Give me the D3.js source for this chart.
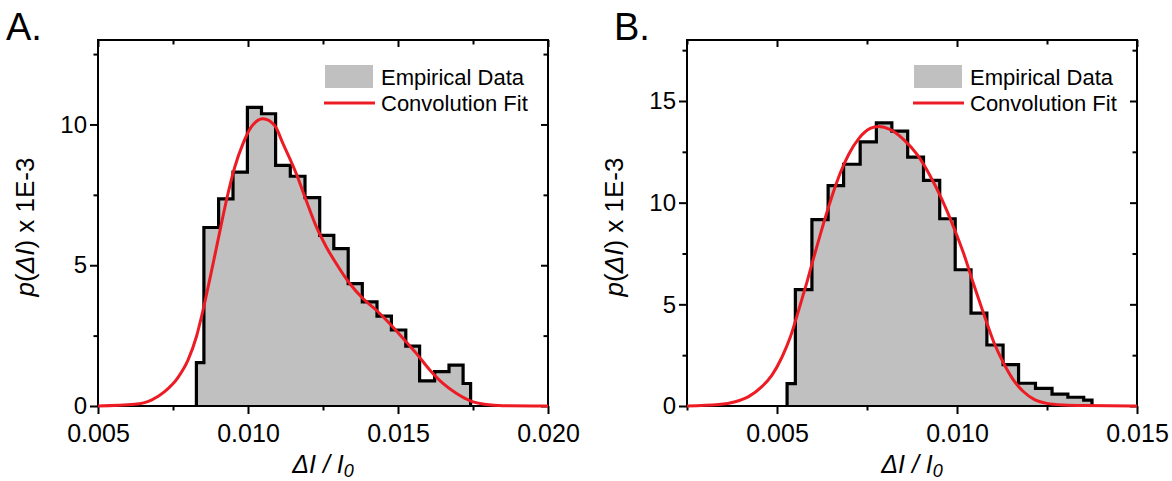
<!DOCTYPE html>
<html>
<head>
<meta charset="utf-8">
<script src="https://cdn.jsdelivr.net/npm/d3@7"></script>
<style>
  body { margin: 0; background: #fff; }
  svg text { font-family: "Liberation Sans", Arial, sans-serif; fill: #000; }
</style>
</head>
<body>
<svg id="chart" width="1172" height="481"></svg>
<script>
// Panel A: histogram bin edges and heights (p x 1E-3)
const edgesA = [0.00828, 0.00853, 0.00902, 0.00950, 0.00998, 0.01045, 0.01092, 0.01141, 0.01190, 0.01239,
  0.01286, 0.01334, 0.01381, 0.01430, 0.01478, 0.01526, 0.01572, 0.01622, 0.01670, 0.01717, 0.01742];
const countsA = [1.54, 6.34, 7.36, 8.31, 10.61, 10.38, 8.55, 8.16, 7.40, 6.06,
  5.59, 4.35, 3.70, 3.19, 2.70, 2.13, 0.89, 1.22, 1.45, 0.80];
// Panel A: convolution fit
const fitXA = [0.005, 0.00622, 0.00678, 0.00722, 0.00767, 0.0080, 0.00828, 0.0085, 0.00872, 0.0090,
  0.00928, 0.00956, 0.00983, 0.01011, 0.0105, 0.01089, 0.01117, 0.01161, 0.01194, 0.01228,
  0.01261, 0.01294, 0.01339, 0.01383, 0.01428, 0.01472, 0.01517, 0.01561, 0.01606, 0.0165,
  0.01694, 0.01739, 0.01794, 0.0185, 0.0195, 0.020];
const fitYA = [0, 0.06, 0.21, 0.51, 1.02, 1.63, 2.46, 3.40, 4.47, 5.89,
  7.30, 8.49, 9.31, 9.91, 10.2, 9.96, 9.31, 8.25, 7.30, 6.36,
  5.65, 5.06, 4.35, 3.82, 3.40, 2.93, 2.40, 1.87, 1.28, 0.80,
  0.45, 0.19, 0.05, 0.01, 0, 0];
const xTicksA = [0.005, 0.010, 0.015, 0.020];
const xMinorA = [0.0075, 0.0125, 0.0175];
const yTicksA = [0, 5, 10];
const yMinorA = [2.5, 7.5, 12.5];

// Panel B
const edgesB = [0.00528, 0.00551, 0.00597, 0.00642, 0.00685, 0.00731, 0.00776, 0.00819, 0.00863, 0.00907,
  0.00952, 0.00995, 0.01039, 0.01083, 0.01128, 0.01171, 0.01218, 0.01264, 0.01308, 0.01352, 0.01375];
const countsB = [1.10, 5.72, 9.17, 10.84, 11.89, 12.99, 13.92, 13.52, 12.24, 11.10,
  9.21, 6.70, 4.57, 3.00, 2.03, 1.12, 0.87, 0.58, 0.43, 0.29];
const fitXB = [0.0025, 0.00338, 0.00384, 0.00421, 0.00458, 0.00486, 0.00514, 0.00537, 0.0056, 0.00583,
  0.00606, 0.0063, 0.00653, 0.00676, 0.00699, 0.00727, 0.00759, 0.00782, 0.00815, 0.00852,
  0.00889, 0.00926, 0.00958, 0.00991, 0.01019, 0.01046, 0.01074, 0.01102, 0.0113, 0.01157,
  0.01185, 0.01213, 0.0125, 0.01296, 0.01357, 0.015];
const fitYB = [0, 0.07, 0.21, 0.46, 0.95, 1.52, 2.41, 3.39, 4.70, 6.08,
  7.55, 9.02, 10.33, 11.47, 12.37, 13.15, 13.65, 13.75, 13.59, 13.10,
  12.37, 11.30, 10.16, 8.78, 7.47, 6.00, 4.54, 3.15, 2.09, 1.27,
  0.70, 0.34, 0.13, 0.05, 0.02, 0];
const xTicksB = [0.005, 0.010, 0.015];
const xMinorB = [0.0025, 0.0075, 0.0125];
const yTicksB = [0, 5, 10, 15];
const yMinorB = [2.5, 7.5, 12.5, 17.5];

const legendLabels = ['Empirical Data', 'Convolution Fit'];
const RED = '#ed1c24';
const GREY = '#c0c0c0';

const svg = d3.select('#chart');

function drawPanel(p) {
  const { left, right, top, bottom } = p.box;
  const x = d3.scaleLinear().domain(p.xDomain).range([left, right]);
  const y = d3.scaleLinear().domain(p.yDomain).range([bottom, top]);
  const g = svg.append('g');

  // histogram as a step outline
  const steps = [[p.edges[0], 0]];
  p.counts.forEach((c, i) => {
    steps.push([p.edges[i], c]);
    steps.push([p.edges[i + 1], c]);
  });
  steps.push([p.edges[p.edges.length - 1], 0]);

  g.append('path')
    .datum(steps)
    .attr('fill', GREY)
    .attr('d', d3.area().x(d => x(d[0])).y0(y(0)).y1(d => y(d[1])));
  g.append('path')
    .datum(steps)
    .attr('fill', 'none')
    .attr('stroke', '#000')
    .attr('stroke-width', 3.2)
    .attr('stroke-linejoin', 'miter')
    .attr('d', d3.line().x(d => x(d[0])).y(d => y(d[1])));

  // axes: ticks out on bottom/left, in on top/right
  const tickStyle = size => sel => {
    sel.select('.domain').remove();
    sel.selectAll('line').attr('stroke-width', 2);
    sel.selectAll('text').attr('font-size', size);
  };
  g.append('g').attr('transform', `translate(0,${bottom})`)
    .call(d3.axisBottom(x).tickValues(p.xTicks).tickFormat(d3.format('.3f')).tickSize(8).tickPadding(10))
    .call(tickStyle(25));
  g.append('g').attr('transform', `translate(0,${bottom})`)
    .call(d3.axisBottom(x).tickValues(p.xMinor).tickFormat('').tickSize(4.5))
    .call(tickStyle(25));
  g.append('g').attr('transform', `translate(0,${top})`)
    .call(d3.axisBottom(x).tickValues(p.xTicks).tickFormat('').tickSize(7))
    .call(tickStyle(25));
  g.append('g').attr('transform', `translate(0,${top})`)
    .call(d3.axisBottom(x).tickValues(p.xMinor).tickFormat('').tickSize(4.5))
    .call(tickStyle(25));
  g.append('g').attr('transform', `translate(${left},0)`)
    .call(d3.axisLeft(y).tickValues(p.yTicks).tickFormat(d3.format('d')).tickSize(8).tickPadding(3))
    .call(tickStyle(24));
  g.append('g').attr('transform', `translate(${left},0)`)
    .call(d3.axisLeft(y).tickValues(p.yMinor).tickFormat('').tickSize(4.5))
    .call(tickStyle(24));
  g.append('g').attr('transform', `translate(${right},0)`)
    .call(d3.axisLeft(y).tickValues(p.yTicks).tickFormat('').tickSize(7))
    .call(tickStyle(24));
  g.append('g').attr('transform', `translate(${right},0)`)
    .call(d3.axisLeft(y).tickValues(p.yMinor).tickFormat('').tickSize(4.5))
    .call(tickStyle(24));

  g.append('rect')
    .attr('x', left).attr('y', top)
    .attr('width', right - left).attr('height', bottom - top)
    .attr('fill', 'none').attr('stroke', '#000').attr('stroke-width', 2);

  // fit curve
  const fit = p.fitX.map((v, i) => [v, p.fitY[i]]);
  g.append('path')
    .datum(fit)
    .attr('fill', 'none')
    .attr('stroke', RED)
    .attr('stroke-width', 3)
    .attr('d', d3.line().x(d => x(d[0])).y(d => y(d[1])).curve(d3.curveMonotoneX));

  // legend
  g.append('rect')
    .attr('x', left + 227).attr('y', 65)
    .attr('width', 48).attr('height', 23)
    .attr('fill', GREY);
  g.append('line')
    .attr('x1', left + 226).attr('x2', left + 277)
    .attr('y1', 103).attr('y2', 103)
    .attr('stroke', RED).attr('stroke-width', 3);
  g.selectAll('.leg')
    .data(legendLabels)
    .join('text')
    .attr('x', left + 283)
    .attr('y', (d, i) => 85 + i * 26)
    .attr('font-size', 22)
    .text(d => d);

  // panel letter
  g.append('text')
    .attr('x', p.letterX).attr('y', 40)
    .attr('font-size', 38)
    .text(p.letter);

  // y title
  const yt = g.append('text')
    .attr('transform', `translate(${left - 64},${(top + bottom) / 2 + 4}) rotate(-90)`)
    .attr('text-anchor', 'middle')
    .attr('font-size', 26);
  yt.append('tspan').attr('font-style', 'italic').text('p');
  yt.append('tspan').text('(');
  yt.append('tspan').attr('font-style', 'italic').text('ΔI');
  yt.append('tspan').text(') x 1E-3');

  // x title
  const xt = g.append('text')
    .attr('x', (left + right) / 2).attr('y', 473)
    .attr('text-anchor', 'middle')
    .attr('font-size', 25)
    .attr('font-style', 'italic');
  xt.append('tspan').text('ΔI / I');
  xt.append('tspan').attr('font-size', 18).attr('dy', 4).text('0');
}

drawPanel({
  box: { left: 98, right: 548, top: 40, bottom: 406 },
  xDomain: [0.005, 0.020], yDomain: [0, 13],
  edges: edgesA, counts: countsA, fitX: fitXA, fitY: fitYA,
  xTicks: xTicksA, xMinor: xMinorA, yTicks: yTicksA, yMinor: yMinorA,
  letter: 'A.', letterX: 6
});
drawPanel({
  box: { left: 687, right: 1137, top: 40, bottom: 406 },
  xDomain: [0.0025, 0.015], yDomain: [0, 18],
  edges: edgesB, counts: countsB, fitX: fitXB, fitY: fitYB,
  xTicks: xTicksB, xMinor: xMinorB, yTicks: yTicksB, yMinor: yMinorB,
  letter: 'B.', letterX: 614
});
</script>
</body>
</html>
